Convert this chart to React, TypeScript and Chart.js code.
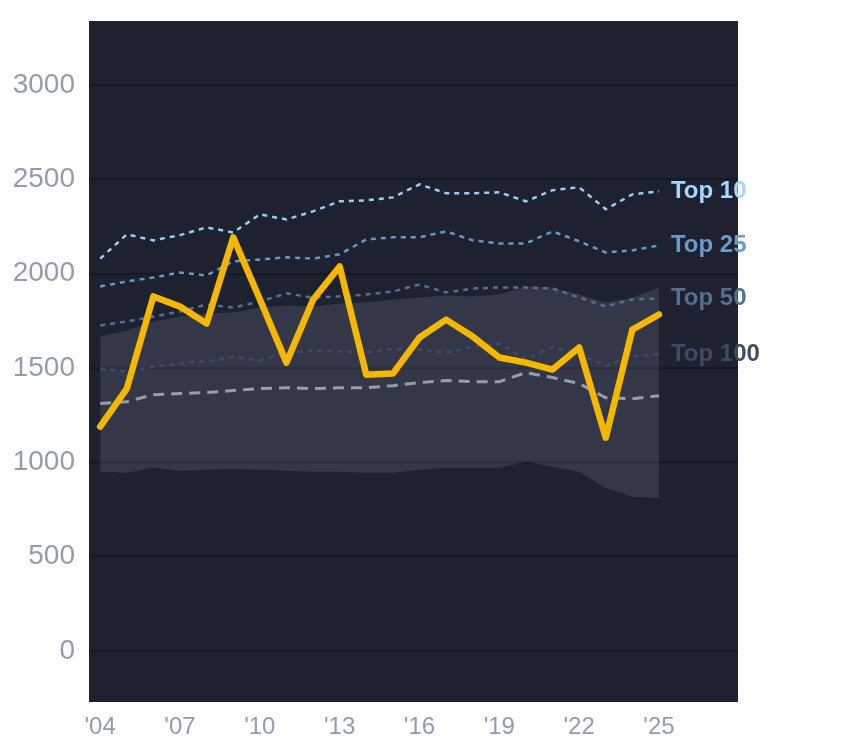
import React, { useEffect, useRef } from "react";
import Chart from "chart.js/auto";

const YEARS = [
  2004, 2005, 2006, 2007, 2008, 2009, 2010, 2011, 2012, 2013, 2014,
  2015, 2016, 2017, 2018, 2019, 2020, 2021, 2022, 2023, 2024, 2025,
];

const MAIN = [
  1190, 1391, 1880, 1826, 1736, 2193, 1865, 1529, 1862, 2039, 1465,
  1471, 1662, 1757, 1667, 1556, 1529, 1492, 1609, 1131, 1704, 1784,
];

const TOP_10 = [
  2080, 2209, 2177, 2205, 2246, 2219, 2315, 2288, 2331, 2384, 2389,
  2405, 2474, 2427, 2427, 2432, 2384, 2443, 2459, 2342, 2421, 2437,
];

const TOP_25 = [
  1933, 1959, 1980, 2007, 1991, 2066, 2076, 2087, 2081, 2103, 2182,
  2193, 2193, 2225, 2177, 2161, 2161, 2225, 2172, 2113, 2124, 2150,
];

const TOP_50 = [
  1726, 1747, 1773, 1800, 1837, 1821, 1853, 1896, 1874, 1880, 1890,
  1906, 1943, 1901, 1922, 1927, 1927, 1922, 1874, 1827, 1864, 1869,
];

const TOP_100 = [
  1497, 1481, 1508, 1524, 1535, 1561, 1540, 1582, 1593, 1588, 1582,
  1604, 1598, 1582, 1614, 1630, 1545, 1614, 1572, 1513, 1561, 1572,
];

const MEDIAN = [
  1312, 1322, 1359, 1365, 1370, 1381, 1391, 1396, 1391, 1396, 1396,
  1407, 1423, 1434, 1428, 1428, 1476, 1450, 1418, 1343, 1338, 1354,
];

const BAND_HIGH = [
  1667, 1699, 1747, 1773, 1789, 1795, 1821, 1832, 1827, 1842, 1848,
  1864, 1874, 1885, 1880, 1890, 1933, 1927, 1890, 1848, 1874, 1927,
];

const BAND_LOW = [
  950, 945, 972, 956, 961, 966, 961, 956, 950, 950, 945,
  945, 961, 972, 972, 972, 1004, 977, 950, 865, 818, 812,
];

const X_TICKS = [2004, 2007, 2010, 2013, 2016, 2019, 2022, 2025];
const Y_TICKS = [0, 500, 1000, 1500, 2000, 2500, 3000];

const FONT = "'Liberation Sans', Arial, Helvetica, sans-serif";
const BG = "#1e2230";
const TICK_COLOR = "#939cab";

const toPoints = (values: number[]) =>
  values.map((v, i) => ({ x: YEARS[i], y: v }));

// dark plot area behind everything
const backgroundPlugin = {
  id: "plotBackground",
  beforeDraw(chart: any) {
    const { ctx, chartArea } = chart;
    ctx.save();
    ctx.fillStyle = BG;
    ctx.fillRect(
      chartArea.left,
      chartArea.top,
      chartArea.right - chartArea.left,
      chartArea.bottom - chartArea.top
    );
    ctx.restore();
  },
};

// "Top N" labels at the end of each tier line
const endLabelPlugin = {
  id: "endLabels",
  afterDatasetsDraw(chart: any) {
    const { ctx } = chart;
    ctx.save();
    ctx.font = `bold 24px ${FONT}`;
    ctx.textBaseline = "middle";
    ctx.textAlign = "left";
    chart.data.datasets.forEach((ds: any, i: number) => {
      if (!ds.endLabel) return;
      const meta = chart.getDatasetMeta(i);
      const last = meta.data[meta.data.length - 1];
      if (!last) return;
      ctx.fillStyle = ds.labelColor || ds.borderColor;
      ctx.fillText(ds.endLabel, last.x + 12, last.y);
    });
    ctx.restore();
  },
};

const App: React.FC = () => {
  const canvasRef = useRef<HTMLCanvasElement>(null);
  const chartRef = useRef<Chart | null>(null);

  useEffect(() => {
    if (!canvasRef.current) return;
    const ctx = canvasRef.current.getContext("2d");
    if (!ctx) return;

    const tier = (label: string, data: number[], color: string, labelColor: string) => ({
      label,
      endLabel: label,
      labelColor,
      data: toPoints(data),
      borderColor: color,
      borderWidth: 2.5,
      borderDash: [5, 5],
      pointRadius: 0,
      fill: false,
      tension: 0,
    });

    chartRef.current = new Chart(ctx, {
      type: "line",
      data: {
        datasets: [
          {
            label: "Main",
            data: toPoints(MAIN),
            borderColor: "#f5b800",
            borderWidth: 6.5,
            borderCapStyle: "round",
            borderJoinStyle: "round",
            pointRadius: 0,
            fill: false,
            tension: 0,
          },
          tier("Top 10", TOP_10, "#9ecdf2", "#a6d6fa"),
          tier("Top 25", TOP_25, "#6a98c3", "#6b9bc6"),
          tier("Top 50", TOP_50, "#55708f", "#55708f"),
          tier("Top 100", TOP_100, "#3e4b63", "#3e4b63"),
          {
            label: "Median",
            data: toPoints(MEDIAN),
            borderColor: "#969dab",
            borderWidth: 3,
            borderDash: [11, 7],
            pointRadius: 0,
            fill: false,
            tension: 0,
          },
          {
            label: "Band high",
            data: toPoints(BAND_HIGH),
            borderWidth: 0,
            borderColor: "rgba(0,0,0,0)",
            backgroundColor: "rgba(160,170,190,0.16)",
            pointRadius: 0,
            fill: 7,
            tension: 0,
          },
          {
            label: "Band low",
            data: toPoints(BAND_LOW),
            borderWidth: 0,
            borderColor: "rgba(0,0,0,0)",
            pointRadius: 0,
            fill: false,
            tension: 0,
          },
        ] as any,
      },
      options: {
        animation: false,
        responsive: true,
        maintainAspectRatio: false,
        layout: {
          autoPadding: false,
          padding: { top: 21, right: 106, left: 0, bottom: 0 },
        },
        plugins: {
          legend: { display: false },
          tooltip: { enabled: false },
        },
        scales: {
          x: {
            type: "linear",
            min: 2003.58,
            max: 2027.97,
            afterBuildTicks: (axis: any) => {
              axis.ticks = X_TICKS.map((value) => ({ value }));
            },
            afterFit: (axis: any) => {
              axis.height = 46;
              axis.paddingLeft = 0;
              axis.paddingRight = 0;
            },
            grid: { display: false },
            border: { display: false },
            ticks: {
              color: TICK_COLOR,
              font: { family: FONT, size: 24 },
              padding: 3,
              maxRotation: 0,
              callback: (v: any) => "'" + String(v).slice(2),
            },
          },
          y: {
            min: -270,
            max: 3340,
            afterBuildTicks: (axis: any) => {
              axis.ticks = Y_TICKS.map((value) => ({ value }));
            },
            afterFit: (axis: any) => {
              axis.width = 89;
              axis.paddingTop = 0;
              axis.paddingBottom = 0;
            },
            grid: {
              color: "#161a24",
              lineWidth: 2.5,
              drawTicks: false,
            },
            border: { display: false },
            ticks: {
              color: TICK_COLOR,
              font: { family: FONT, size: 28 },
              padding: 14,
              callback: (v: any) => String(v),
            },
          },
        },
      },
      plugins: [backgroundPlugin, endLabelPlugin],
    });

    return () => {
      if (chartRef.current) {
        chartRef.current.destroy();
        chartRef.current = null;
      }
    };
  }, []);

  return (
    <div
      style={{
        position: "fixed",
        left: 0,
        top: 0,
        width: "844px",
        height: "748px",
        background: "#ffffff",
      }}
    >
      <canvas ref={canvasRef}></canvas>
    </div>
  );
};

export default App;
